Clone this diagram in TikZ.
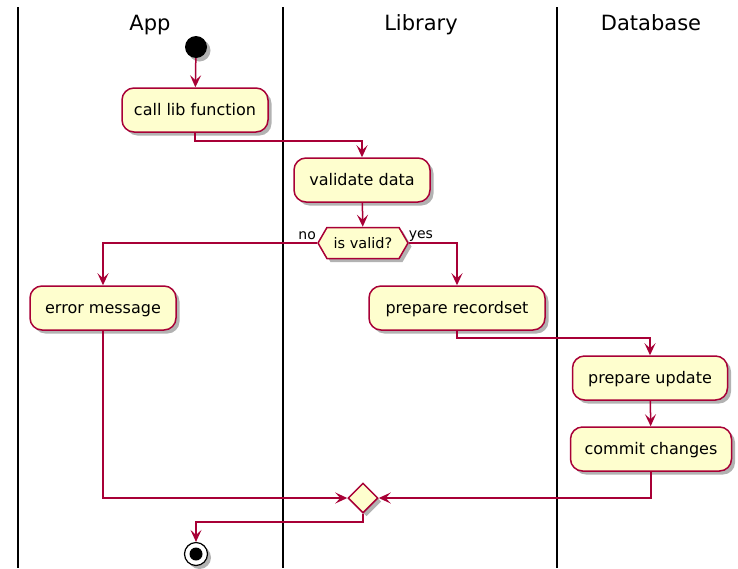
\documentclass[tikz,border=0pt]{standalone}
\usepackage{fontspec}
\setmainfont{DejaVu Sans}
\usetikzlibrary{arrows.meta,shapes.geometric,shapes.symbols,shadows}
\definecolor{pumlred}{HTML}{A80036}
\definecolor{pumlfill}{HTML}{FEFECE}
\tikzset{
  shad/.style={drop shadow={shadow xshift=3.5pt,shadow yshift=-3.5pt,opacity=0.3,fill=black}},
  actbox/.style={rectangle, rounded corners=12pt, draw=pumlred, fill=pumlfill, line width=1.5pt,
    minimum height=44pt, inner sep=0pt, text height=11.5pt, text depth=0pt,
    font=\fontsize{16}{18}\selectfont, shad},
  hexbox/.style={signal, signal to=west and east, signal pointer angle=120, draw=pumlred, fill=pumlfill,
    line width=1.5pt, minimum width=90pt, minimum height=31pt, inner sep=0pt,
    text height=10pt, text depth=0pt, font=\fontsize{14.5}{16}\selectfont, shad},
  mergebox/.style={diamond, draw=pumlred, fill=pumlfill, line width=1.5pt, minimum width=30pt,
    minimum height=30pt, inner sep=0pt, shad},
  conn/.style={draw=pumlred, line width=1.5pt, -{Stealth[length=12pt,width=11pt,inset=5pt]}},
  lane/.style={draw=black, line width=1.8pt},
  lanehead/.style={anchor=base, font=\fontsize{21}{24}\selectfont},
  guardlbl/.style={font=\fontsize{14}{16}\selectfont, inner sep=0pt}
}
\begin{document}
\begin{tikzpicture}[x=1pt,y=-1pt]
\useasboundingbox (0,0) rectangle (738,568);
% swimlanes
\draw[lane] (18,7) -- (18,568);
\draw[lane] (283,7) -- (283,568);
\draw[lane] (557,7) -- (557,568);
\node[lanehead] (hApp) at (150,30) {App};
\node[lanehead] (hLib) at (421,30) {Library};
\node[lanehead] (hDb) at (651,30) {Database};
% nodes
\node[circle, fill=black, minimum size=22pt, inner sep=0pt, shad] (start) at (196,47) {};
\node[actbox, minimum width=146pt] (call) at (195,110) {call lib function};
\node[actbox, minimum width=136pt] (validate) at (362,180) {validate data};
\node[hexbox] (valid) at (363,243) {is valid?};
\node[actbox, minimum width=146pt] (error) at (103,308) {error message};
\node[actbox, minimum width=176pt] (record) at (457,308) {prepare recordset};
\node[actbox, minimum width=155pt] (update) at (650,378) {prepare update};
\node[actbox, minimum width=161pt] (commit) at (651,449) {commit changes};
\node[mergebox] (merge) at (363,498) {};
\node[circle, draw=black, fill=white, line width=1.2pt, minimum size=23pt, inner sep=0pt, shad] (end) at (196,554) {};
\node[circle, fill=black, minimum size=13pt, inner sep=0pt] (endin) at (end.center) {};
\node[guardlbl] (no) at ([xshift=-10pt,yshift=7pt]valid.west) {no};
\node[guardlbl] (yes) at ([xshift=12pt,yshift=7pt]valid.east) {yes};
% connectors
\draw[conn] (start) -- (call);
\draw[conn] (call.south) -- ++(0,8) -| (validate.north);
\draw[conn] (validate) -- (valid);
\draw[conn] (valid.west) -| (error.north);
\draw[conn] (valid.east) -| (record.north);
\draw[conn] (record.south) -- ++(0,7) -| (update.north);
\draw[conn] (update) -- (commit);
\draw[conn] (commit.south) |- (merge.east);
\draw[conn] (error.south) |- (merge.west);
\draw[conn] (merge.south) -- ++(0,8) -| (end.north);
\end{tikzpicture}
\end{document}
